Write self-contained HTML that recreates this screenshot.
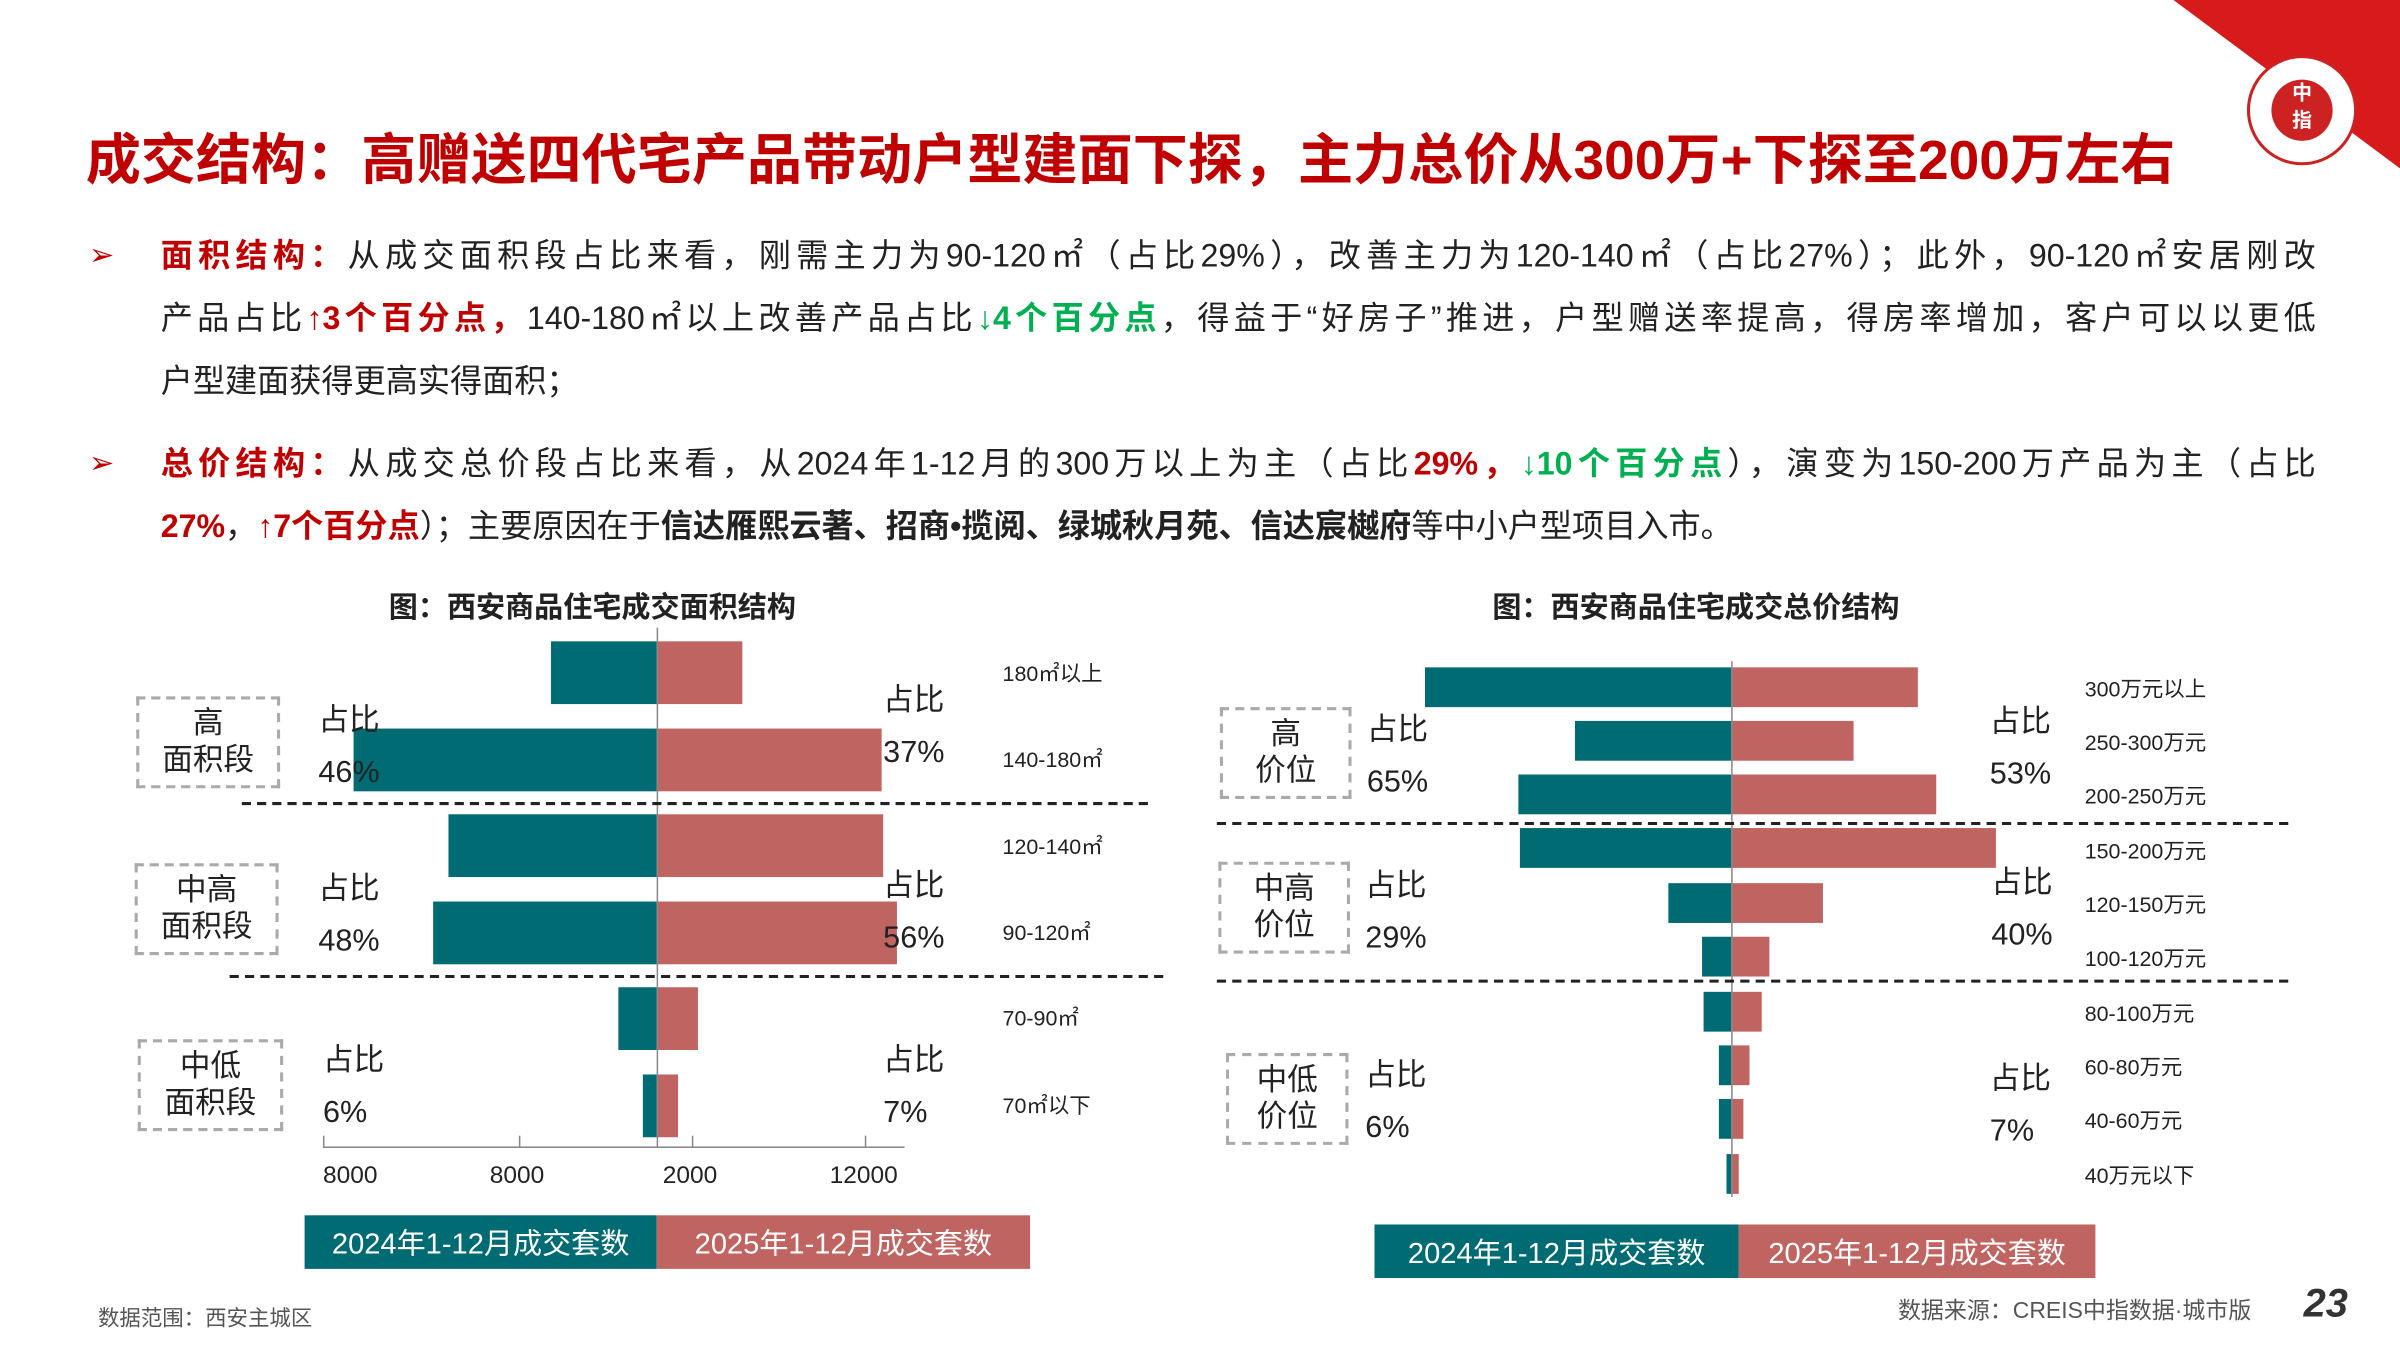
<!DOCTYPE html>
<html><head><meta charset="utf-8">
<style>
html,body{margin:0;padding:0;background:#fff;overflow:hidden;}
#wrap{position:relative;width:1568px;height:882px;transform:scale(1.530612);transform-origin:0 0;font-family:"Liberation Sans","Noto Sans CJK SC",sans-serif;color:#222;}
.a{position:absolute;}
.t{background:#006b72;}
.r{background:#bf6461;}
.ln{position:absolute;left:105px;width:1408px;font-size:21px;text-align:justify;text-align-last:justify;line-height:28px;white-space:normal;}
.red{color:#c00000;font-weight:bold;}
.grn{color:#00b050;font-weight:bold;}
.b{font-weight:bold;}
.box{position:absolute;border:2px dashed #aaa;box-sizing:border-box;text-align:center;font-size:20px;line-height:24px;display:flex;align-items:center;justify-content:center;}
.lab{position:absolute;font-size:20px;line-height:34px;}
.cat{position:absolute;font-size:14px;}
.dash{position:absolute;border-top:2.5px dashed #222;height:0;}
.leg{position:absolute;color:#fff;font-size:19px;display:flex;align-items:center;justify-content:center;}
</style></head><body><div id="wrap">
<svg class="a" style="left:1420px;top:0" width="148" height="110"><polygon points="0,0 148,0 148,110" fill="#d71a1a"/></svg>
<div class="a" style="left:1468px;top:36px;width:72px;height:72px;border-radius:50%;background:#fff;border:2px solid #c22;box-sizing:border-box"></div>
<div class="a" style="left:1484px;top:52px;width:40px;height:40px;border-radius:50%;background:#c22;color:#fff;font-size:13px;text-align:center;line-height:18px;font-weight:bold">中<br>指</div>
<div class="a" style="left:56px;top:76px;font-size:36px;font-weight:bold;color:#c00000;white-space:nowrap">成交结构：高赠送四代宅产品带动户型建面下探，主力总价从300万+下探至200万左右</div>

<div class="a" style="left:58px;top:154px;color:#c00000;font-size:20px">➢</div>
<div class="ln" style="top:154px"><span class="red">面积结构：</span>从成交面积段占比来看，刚需主力为90-120㎡（占比29%），改善主力为120-140㎡（占比27%）；此外，90-120㎡安居刚改</div>
<div class="ln" style="top:195px">产品占比<span class="red">↑3个百分点，</span>140-180㎡以上改善产品占比<span class="grn">↓4个百分点</span>，得益于“好房子”推进，户型赠送率提高，得房率增加，客户可以以更低</div>
<div class="ln" style="top:236px;text-align-last:left">户型建面获得更高实得面积；</div>
<div class="a" style="left:58px;top:290px;color:#c00000;font-size:20px">➢</div>
<div class="ln" style="top:290px"><span class="red">总价结构：</span>从成交总价段占比来看，从2024年1-12月的300万以上为主（占比<span class="red">29%，</span><span class="grn">↓10个百分点</span>），演变为150-200万产品为主（占比</div>
<div class="ln" style="top:331px;text-align-last:left"><span class="red">27%</span>，<span class="red">↑7个百分点</span>）；主要原因在于<span class="b">信达雁熙云著、招商•揽阅、绿城秋月苑、信达宸樾府</span>等中小户型项目入市。</div>

<!-- left chart -->
<div class="a b" style="left:254px;top:382px;font-size:19px">图：西安商品住宅成交面积结构</div>
<div class="a t" style="left:360px;top:419px;width:69px;height:41px"></div><div class="a r" style="left:429px;top:419px;width:56px;height:41px"></div>
<div class="a t" style="left:231px;top:476px;width:198px;height:41px"></div><div class="a r" style="left:429px;top:476px;width:147px;height:41px"></div>
<div class="a t" style="left:293px;top:532px;width:136px;height:41px"></div><div class="a r" style="left:429px;top:532px;width:148px;height:41px"></div>
<div class="a t" style="left:283px;top:589px;width:146px;height:41px"></div><div class="a r" style="left:429px;top:589px;width:157px;height:41px"></div>
<div class="a t" style="left:404px;top:645px;width:25px;height:41px"></div><div class="a r" style="left:429px;top:645px;width:27px;height:41px"></div>
<div class="a t" style="left:420px;top:702px;width:9px;height:41px"></div><div class="a r" style="left:429px;top:702px;width:14px;height:41px"></div>
<div class="a" style="left:429px;top:410px;width:1px;height:340px;background:#888"></div>
<div class="a" style="left:211px;top:749px;width:380px;height:1px;background:#888"></div>
<div class="a" style="left:211px;top:742px;width:1px;height:8px;background:#888"></div>
<div class="a" style="left:339px;top:742px;width:1px;height:8px;background:#888"></div>
<div class="a" style="left:452px;top:742px;width:1px;height:8px;background:#888"></div>
<div class="a" style="left:565px;top:742px;width:1px;height:8px;background:#888"></div>
<div class="a" style="left:211px;top:760px;font-size:16px">8000</div>
<div class="a" style="left:320px;top:760px;font-size:16px">8000</div>
<div class="a" style="left:433px;top:760px;font-size:16px">2000</div>
<div class="a" style="left:542px;top:760px;font-size:16px">12000</div>
<div class="dash" style="left:158px;top:524px;width:592px"></div>
<div class="dash" style="left:150px;top:637px;width:610px"></div>
<div class="cat" style="left:655px;top:430px">180㎡以上</div>
<div class="cat" style="left:655px;top:486px">140-180㎡</div>
<div class="cat" style="left:655px;top:543px">120-140㎡</div>
<div class="cat" style="left:655px;top:599px">90-120㎡</div>
<div class="cat" style="left:655px;top:655px">70-90㎡</div>
<div class="cat" style="left:655px;top:712px">70㎡以下</div>
<div class="box" style="left:89px;top:455px;width:94px;height:60px">高<br>面积段</div>
<div class="box" style="left:88px;top:564px;width:94px;height:60px">中高<br>面积段</div>
<div class="box" style="left:90px;top:679px;width:95px;height:60px">中低<br>面积段</div>
<div class="lab" style="left:208px;top:454px">占比<br>46%</div>
<div class="lab" style="left:577px;top:441px">占比<br>37%</div>
<div class="lab" style="left:208px;top:564px">占比<br>48%</div>
<div class="lab" style="left:577px;top:562px">占比<br>56%</div>
<div class="lab" style="left:211px;top:676px">占比<br>6%</div>
<div class="lab" style="left:577px;top:676px">占比<br>7%</div>
<div class="leg t" style="left:199px;top:794px;width:230px;height:35px">2024年1-12月成交套数</div>
<div class="leg r" style="left:429px;top:794px;width:244px;height:35px">2025年1-12月成交套数</div>

<!-- right chart -->
<div class="a b" style="left:975px;top:382px;font-size:19px">图：西安商品住宅成交总价结构</div>
<div class="a t" style="left:931px;top:436px;width:200px;height:26px"></div><div class="a r" style="left:1131px;top:436px;width:122px;height:26px"></div>
<div class="a t" style="left:1029px;top:471px;width:102px;height:26px"></div><div class="a r" style="left:1131px;top:471px;width:80px;height:26px"></div>
<div class="a t" style="left:992px;top:506px;width:139px;height:26px"></div><div class="a r" style="left:1131px;top:506px;width:134px;height:26px"></div>
<div class="a t" style="left:993px;top:541px;width:138px;height:26px"></div><div class="a r" style="left:1131px;top:541px;width:173px;height:26px"></div>
<div class="a t" style="left:1090px;top:577px;width:41px;height:26px"></div><div class="a r" style="left:1131px;top:577px;width:60px;height:26px"></div>
<div class="a t" style="left:1112px;top:612px;width:19px;height:26px"></div><div class="a r" style="left:1131px;top:612px;width:25px;height:26px"></div>
<div class="a t" style="left:1113px;top:648px;width:18px;height:26px"></div><div class="a r" style="left:1131px;top:648px;width:20px;height:26px"></div>
<div class="a t" style="left:1123px;top:683px;width:8px;height:26px"></div><div class="a r" style="left:1131px;top:683px;width:12px;height:26px"></div>
<div class="a t" style="left:1123px;top:718px;width:8px;height:26px"></div><div class="a r" style="left:1131px;top:718px;width:8px;height:26px"></div>
<div class="a t" style="left:1128px;top:754px;width:3px;height:26px"></div><div class="a r" style="left:1131px;top:754px;width:5px;height:26px"></div>
<div class="a" style="left:1131px;top:432px;width:1px;height:350px;background:#888"></div>
<div class="dash" style="left:795px;top:537px;width:700px"></div>
<div class="dash" style="left:795px;top:640px;width:700px"></div>
<div class="cat" style="left:1362px;top:440px">300万元以上</div>
<div class="cat" style="left:1362px;top:475px">250-300万元</div>
<div class="cat" style="left:1362px;top:510px">200-250万元</div>
<div class="cat" style="left:1362px;top:546px">150-200万元</div>
<div class="cat" style="left:1362px;top:581px">120-150万元</div>
<div class="cat" style="left:1362px;top:616px">100-120万元</div>
<div class="cat" style="left:1362px;top:652px">80-100万元</div>
<div class="cat" style="left:1362px;top:687px">60-80万元</div>
<div class="cat" style="left:1362px;top:722px">40-60万元</div>
<div class="cat" style="left:1362px;top:758px">40万元以下</div>
<div class="box" style="left:797px;top:462px;width:86px;height:60px">高<br>价位</div>
<div class="box" style="left:796px;top:563px;width:86px;height:60px">中高<br>价位</div>
<div class="box" style="left:801px;top:688px;width:80px;height:60px">中低<br>价位</div>
<div class="lab" style="left:893px;top:460px">占比<br>65%</div>
<div class="lab" style="left:1300px;top:455px">占比<br>53%</div>
<div class="lab" style="left:892px;top:562px">占比<br>29%</div>
<div class="lab" style="left:1301px;top:560px">占比<br>40%</div>
<div class="lab" style="left:892px;top:686px">占比<br>6%</div>
<div class="lab" style="left:1300px;top:688px">占比<br>7%</div>
<div class="leg t" style="left:898px;top:800px;width:238px;height:35px">2024年1-12月成交套数</div>
<div class="leg r" style="left:1136px;top:800px;width:233px;height:35px">2025年1-12月成交套数</div>

<div class="a" style="left:64px;top:851px;font-size:14px;color:#555">数据范围：西安主城区</div>
<div class="a" style="left:1240px;top:845px;font-size:15px;color:#555">数据来源：CREIS中指数据·城市版</div>
<div class="a" style="left:1505px;top:836px;font-size:26px;font-weight:bold;font-style:italic;color:#333">23</div>
</div></body></html>
